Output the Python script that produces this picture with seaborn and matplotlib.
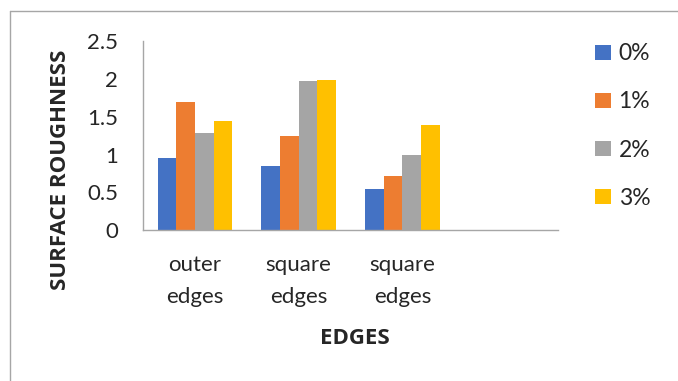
import matplotlib
matplotlib.use("Agg")
import matplotlib.pyplot as plt
from matplotlib.lines import Line2D
from matplotlib.patches import Patch
import seaborn as sns
import pandas as pd

# data
groups = [0, 1, 2, 3]
group_labels = ["outer\nedges", "square\nedges", "square\nedges", ""]
series = ["0%", "1%", "2%", "3%"]
vals_0 = [0.96, 0.85, 0.55]
vals_1 = [1.70, 1.25, 0.72]
vals_2 = [1.29, 1.97, 0.99]
vals_3 = [1.44, 1.98, 1.39]
colors = ["#4472C4", "#ED7D31", "#A5A5A5", "#FFC000"]

rows = []
for s, vals in zip(series, [vals_0, vals_1, vals_2, vals_3]):
    for g, v in zip(groups, vals):
        rows.append({"group": g, "pct": s, "value": v})
df = pd.DataFrame(rows)

sns.set_style("white")
plt.rcParams["font.family"] = ["Lato", "DejaVu Sans"]

fig = plt.figure(figsize=(6.78, 3.81), dpi=100, facecolor="white")
ax = fig.add_axes([0.211, 0.396, 0.612, 0.496])

sns.barplot(data=df, x="group", y="value", hue="pct", order=groups,
            hue_order=series, palette=colors, width=0.72, gap=0,
            saturation=1, linewidth=0, ax=ax, legend=False)

ax.set_xlim(-0.5, 3.5)
ax.set_ylim(0, 2.5)
ax.set_xlabel("")
ax.set_ylabel("")
ax.set_yticks([0, 0.5, 1, 1.5, 2, 2.5])
ax.set_yticklabels(["0", "0.5", "1", "1.5", "2", "2.5"])
ax.set_xticks([-0.5, 0.5, 1.5, 2.5, 3.5])
ax.set_xticklabels([])
ax.set_xticks(groups, minor=True)
ax.set_xticklabels(group_labels, minor=True, fontsize=16, linespacing=1.75)
ax.tick_params(axis="x", which="minor", length=0, pad=18)
ax.tick_params(axis="x", which="major", length=7, color="#A6A6A6", width=1)
ax.tick_params(axis="y", length=7, color="#A6A6A6", width=1, labelsize=16, pad=11)

for side in ["top", "right"]:
    ax.spines[side].set_visible(False)
for side in ["left", "bottom"]:
    ax.spines[side].set_color("#A6A6A6")
    ax.spines[side].set_linewidth(1)

bold = dict(family=["Open Sans", "DejaVu Sans"], fontweight="bold", fontsize=16)
fig.text(355 / 678, 1 - 338 / 381, "EDGES", ha="center", va="center", **bold)
fig.text(60 / 678, 1 - 170 / 381, "SURFACE ROUGHNESS", ha="center", va="center",
         rotation=90, **bold)

handles = [Patch(facecolor=c, edgecolor="none", label=s) for c, s in zip(colors, series)]
fig.legend(handles=handles, loc="upper left", bbox_to_anchor=(0.864, 0.91),
           frameon=False, fontsize=16.5, handlelength=0.68, handleheight=0.68,
           handletextpad=0.35, labelspacing=1.18, borderaxespad=0)

# chart frame (only top and left edges are visible in the crop)
fig.add_artist(Line2D([10 / 678, 1.0], [1 - 11 / 381, 1 - 11 / 381],
                      transform=fig.transFigure, color="#A6A6A6", lw=1))
fig.add_artist(Line2D([10 / 678, 10 / 678], [0, 1 - 11 / 381],
                      transform=fig.transFigure, color="#A6A6A6", lw=1))

fig.savefig("out.png", dpi=100, facecolor="white")
